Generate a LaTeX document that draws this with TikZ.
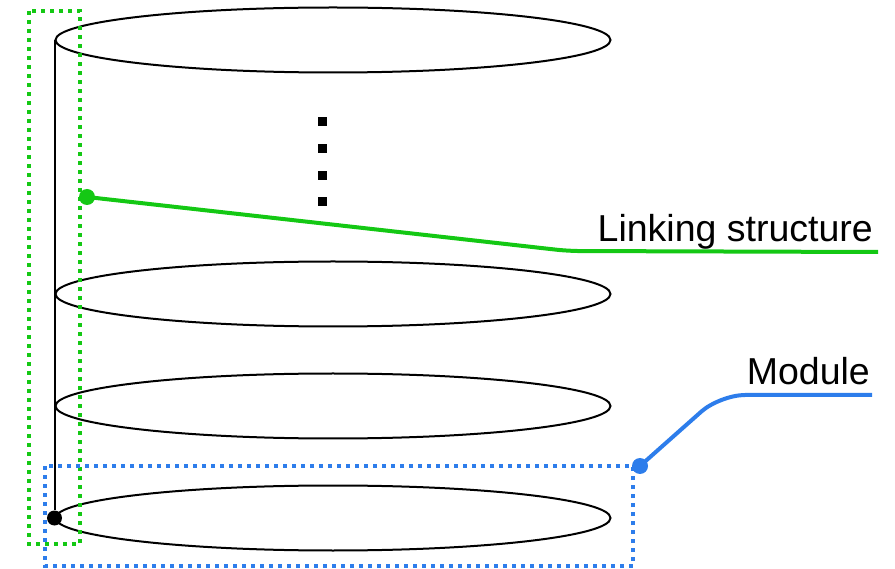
\documentclass[tikz,border=0pt]{standalone}
\usepackage{fontspec}
\setmainfont{Liberation Sans}
\usetikzlibrary{shapes.geometric}
\definecolor{linkgreen}{RGB}{20,200,20}
\definecolor{modblue}{RGB}{45,125,235}
\begin{document}
\begin{tikzpicture}[x=1pt, y=-1pt,
    every node/.style={font=\fontsize{37.5pt}{45pt}\selectfont},
    layer/.style={draw, ellipse, line width=2pt, minimum width=555pt, minimum height=65pt, inner sep=0pt},
    pin/.style={circle, fill, inner sep=0pt, minimum size=16pt},
    vdot/.style={fill, inner sep=0pt, minimum size=9pt},
    frame/.style={line width=4pt, dash pattern=on 4pt off 5pt}]
    \useasboundingbox (0,0) rectangle (895,569);

    \node[layer] (l1) at (333,40) {};
    \node[layer] (l2) at (333,294) {};
    \node[layer] (l3) at (333,406) {};
    \node[layer] (l4) at (333,518) {};

    \node[vdot] (d1) at (322,122) {};
    \node[vdot] (d2) at (322,149) {};
    \node[vdot] (d3) at (322,176) {};
    \node[vdot] (d4) at (322,202) {};

    \node[pin, minimum size=15pt] (root) at (l4.west) {};
    \draw[line width=2pt] (l1.west) -- (root);

    \draw[frame, linkgreen] (29,11) rectangle (80,544);
    \draw[frame, modblue] (45,466) rectangle (633,566);

    \node[pin, linkgreen] (gp) at (87,197) {};
    \node[pin, modblue] (bp) at (640,466) {};

    \node[anchor=base east, inner sep=0pt] (link) at (873,242) {Linking structure};
    \node[anchor=base east, inner sep=0pt] (mod) at (870,385) {Module};

    \coordinate (linkend) at (878,252);
    \coordinate (modend) at (872,395);
    \draw[linkgreen, line width=4pt, rounded corners=12pt] (gp.center) -- (568,251) -- (linkend);
    \draw[modblue, line width=4pt, rounded corners=25pt] (bp.center) -- (720,395) -- (modend);
\end{tikzpicture}
\end{document}
